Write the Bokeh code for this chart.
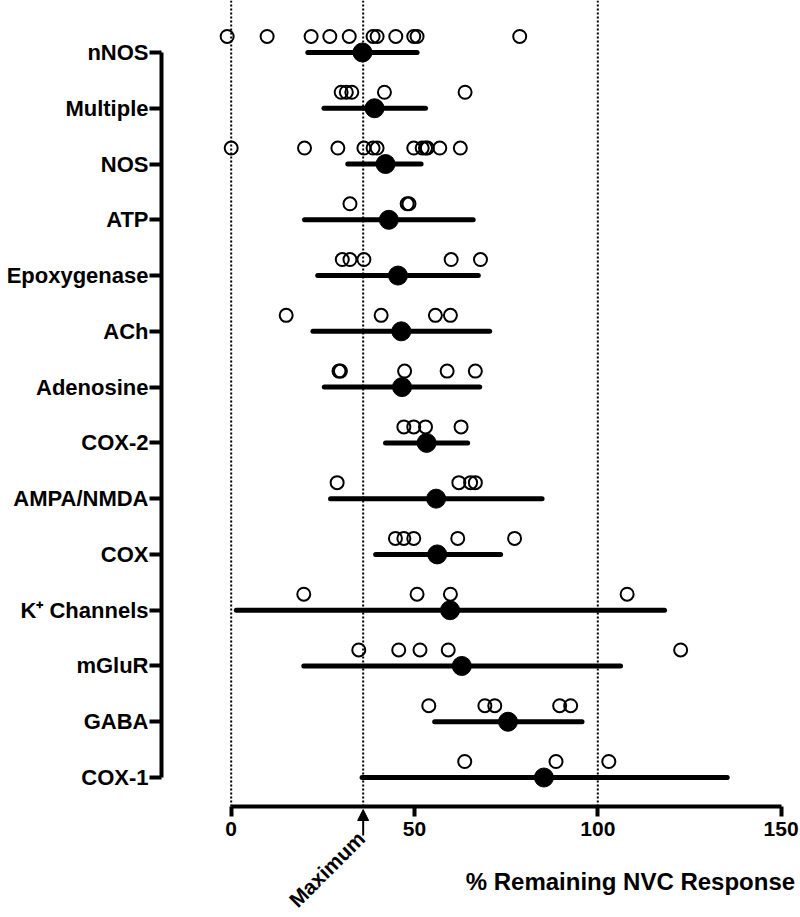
from bokeh.plotting import figure
from bokeh.models import Arrow, NormalHead, Label, FixedTicker, Range1d, ColumnDataSource
from bokeh.embed import file_html
from bokeh.resources import INLINE

# ---------------- data ----------------
categories = ["nNOS", "Multiple", "NOS", "ATP", "Epoxygenase", "ACh", "Adenosine",
              "COX-2", "AMPA/NMDA", "COX", "K\u207a Channels", "mGluR", "GABA", "COX-1"]

nnos = [-1.1, 9.8, 21.8, 26.9, 32.2, 38.7, 39.8, 44.9, 49.8, 50.7, 78.7]
multiple = [30.0, 31.4, 32.9, 41.8, 63.8]
nos = [0.0, 20.0, 29.1, 36.2, 38.7, 39.8, 49.8, 52.1, 53.0, 53.5, 56.9, 62.5]
atp = [32.4, 48.0, 48.5]
epoxygenase = [30.3, 32.4, 36.2, 60.0, 68.0]
ach = [15.0, 40.9, 55.7, 59.8]
adenosine = [29.4, 29.8, 47.3, 58.9, 66.6]
cox2 = [47.1, 49.8, 53.0, 62.7]
ampa_nmda = [28.9, 62.1, 65.3, 66.6]
cox = [44.8, 47.1, 49.8, 61.8, 77.3]
k_channels = [19.8, 50.7, 59.8, 108.0]
mglur = [34.8, 45.7, 51.5, 59.2, 122.6]
gaba = [53.9, 69.2, 71.9, 89.6, 92.6]
cox1 = [63.7, 88.6, 103.0]

means = [35.8, 39.1, 42.1, 43.0, 45.5, 46.4, 46.6, 53.3, 55.9, 56.2, 59.7, 62.9, 75.5, 85.3]
ci_low = [20.9, 25.3, 31.8, 20.0, 23.6, 22.3, 25.4, 42.1, 27.1, 39.4, 1.4, 19.8, 55.5, 35.7]
ci_high = [50.7, 53.0, 51.8, 66.0, 67.4, 70.5, 67.8, 64.5, 84.8, 73.5, 118.2, 106.2, 95.7, 135.3]

maximum = 36
reference_lines = [0, maximum, 100]
x_ticks = [0, 50, 100, 150]

studies = [nnos, multiple, nos, atp, epoxygenase, ach, adenosine, cox2, ampa_nmda,
           cox, k_channels, mglur, gaba, cox1]

# ---------------- build ----------------
n = len(categories)
ypos = [n - 1 - i for i in range(n)]
PT_OFFSET = 0.287
Y_TOP = 13.932
Y_BOTTOM = -2.510
AXIS_Y = -0.52

pts_x, pts_y = [], []
for i, vals in enumerate(studies):
    for v in vals:
        pts_x.append(v)
        pts_y.append(ypos[i] + PT_OFFSET)

summary = ColumnDataSource(dict(y=ypos, mean=means, lo=ci_low, hi=ci_high))
points = ColumnDataSource(dict(x=pts_x, y=pts_y))
refs = ColumnDataSource(dict(x=reference_lines,
                             y0=[AXIS_Y] * len(reference_lines),
                             y1=[Y_TOP] * len(reference_lines)))

FONT = "Liberation Sans"

p = figure(width=800, height=917, output_backend="svg", toolbar_location=None,
           x_range=Range1d(-19.01, 155.29), y_range=Range1d(Y_BOTTOM, Y_TOP),
           min_border_left=161, min_border_right=0, min_border_top=0, min_border_bottom=0)
p.title.visible = False
p.outline_line_color = None
p.grid.visible = False
p.background_fill_color = "white"

p.segment(x0="x", y0="y0", x1="x", y1="y1", source=refs, line_color="black",
          line_width=2, line_dash="2 2")
p.segment(x0="lo", y0="y", x1="hi", y1="y", source=summary, line_color="black",
          line_width=5, line_cap="round")
p.scatter(x="mean", y="y", source=summary, marker="circle", size=19,
          fill_color="black", line_color="black")
p.scatter(x="x", y="y", source=points, marker="circle", size=13,
          fill_color=None, line_color="black", line_width=2)

# x axis (fixed inside the frame so annotations below it stay visible)
xa = p.xaxis[0]
xa.fixed_location = AXIS_Y
xa.ticker = FixedTicker(ticks=x_ticks)
xa.bounds = (x_ticks[0], x_ticks[-1])
xa.axis_line_width = 4
xa.major_tick_line_width = 4
xa.major_tick_out = 10
xa.major_tick_in = 0
xa.minor_tick_line_color = None
xa.major_label_standoff = 5
xa.major_label_text_font = FONT
xa.major_label_text_font_style = "bold"
xa.major_label_text_font_size = "21px"
xa.major_label_text_color = "black"

# y axis
ya = p.yaxis[0]
ya.ticker = FixedTicker(ticks=ypos)
ya.bounds = (min(ypos), max(ypos))
ya.major_label_overrides = {ypos[i]: categories[i] for i in range(n)}
ya.axis_line_width = 4
ya.major_tick_line_width = 4
ya.major_tick_out = 12
ya.major_tick_in = 0
ya.minor_tick_line_color = None
ya.major_label_standoff = 1
ya.major_label_text_font = FONT
ya.major_label_text_font_style = "bold"
ya.major_label_text_font_size = "22px"
ya.major_label_text_color = "black"

# Maximum marker
p.add_layout(Arrow(end=NormalHead(size=11, fill_color="black", line_color="black", line_width=1),
                   x_start=maximum, y_start=-1.04, x_end=maximum, y_end=-0.574,
                   line_color="black", line_width=2))
p.add_layout(Label(x=maximum, y=-1.03, x_offset=-2, text="Maximum", angle=45, angle_units="deg",
                   text_align="right", text_baseline="middle", text_font=FONT,
                   text_font_style="bold", text_font_size="21px", text_color="black"))

# axis title
p.add_layout(Label(x=x_ticks[-1], y=-1.865, x_offset=14, text="% Remaining NVC Response",
                   text_align="right", text_baseline="alphabetic", text_font=FONT,
                   text_font_style="bold", text_font_size="24px", text_color="black"))

open("out.html", "w").write(file_html(p, INLINE))
